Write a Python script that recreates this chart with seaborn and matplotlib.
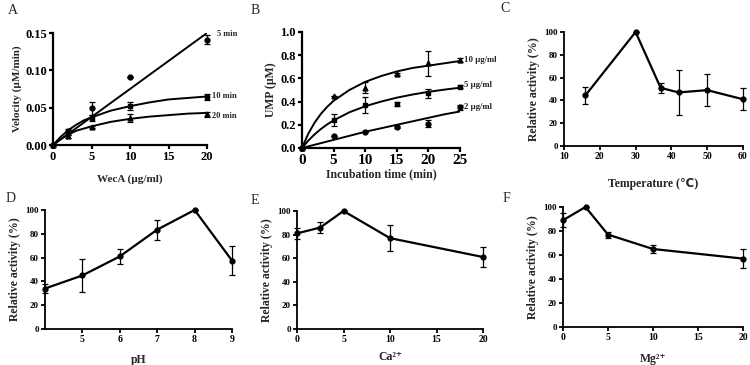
import numpy as np
import pandas as pd
import seaborn as sns
import matplotlib
matplotlib.use("Agg")
import matplotlib.pyplot as plt

# ---- panel A: velocity vs WecA ----
a_x = [0, 2, 5, 10, 20]
a_5min = [0, 0.019, 0.049, 0.091, 0.141]
a_5min_err = [0, 0.002, 0.009, 0, 0.006]
a_10min = [0, 0.016, 0.036, 0.052, 0.064]
a_10min_err = [0, 0.002, 0.004, 0.005, 0.004]
a_20min = [0, 0.012, 0.024, 0.036, 0.041]
a_20min_err = [0, 0.002, 0.001, 0.005, 0.003]
# fitted curves
a_fit_x = [0, 1, 2, 3, 4, 5, 7.5, 10, 12.5, 15, 17.5, 20]
a_fit_5min = [0, 0.0075, 0.015, 0.0225, 0.03, 0.0375, 0.0563, 0.075, 0.0938, 0.1125, 0.1313, 0.15]
a_fit_10min = [0, 0.011, 0.020, 0.027, 0.033, 0.037, 0.046, 0.052, 0.057, 0.061, 0.063, 0.065]
a_fit_20min = [0, 0.008, 0.014, 0.019, 0.022, 0.025, 0.031, 0.035, 0.038, 0.040, 0.042, 0.043]

# ---- panel B: UMP vs incubation time ----
b_x = [0, 5, 10, 15, 20, 25]
b_10 = [0, 0.45, 0.52, 0.64, 0.73, 0.76]
b_10_err = [0, 0, 0.05, 0.01, 0.11, 0.02]
b_5 = [0, 0.24, 0.37, 0.38, 0.47, 0.53]
b_5_err = [0, 0.05, 0.07, 0.02, 0.04, 0.01]
b_2 = [0, 0.10, 0.14, 0.18, 0.21, 0.35]
b_2_err = [0, 0, 0, 0.01, 0.03, 0.02]
b_fit_x = [0, 1, 2, 3, 4, 5, 7.5, 10, 12.5, 15, 17.5, 20, 22.5, 25]
b_fit_10 = [0, 0.124, 0.219, 0.295, 0.356, 0.407, 0.50, 0.57, 0.62, 0.66, 0.69, 0.71, 0.73, 0.75]
b_fit_5 = [0, 0.064, 0.118, 0.164, 0.204, 0.238, 0.308, 0.36, 0.40, 0.434, 0.461, 0.484, 0.503, 0.52]
b_fit_2 = [0, 0.014, 0.028, 0.042, 0.056, 0.07, 0.105, 0.14, 0.17, 0.20, 0.23, 0.26, 0.29, 0.315]

# ---- panels C-F: relative activity ----
c_temp = [16, 30, 37, 42, 50, 60]
c_act = [44.5, 100, 51, 47, 49, 41]
c_err = [7.5, 0, 4.5, 19.5, 14, 9.5]

d_ph = [4, 5, 6, 7, 8, 9]
d_act = [34, 45, 61, 83.5, 100, 57.5]
d_err = [3.5, 13.5, 6.5, 8.5, 0, 12]

e_ca = [0, 2.5, 5, 10, 20]
e_act = [81, 86, 100, 77, 61]
e_err = [5, 5, 0, 11, 8.5]

f_mg = [0, 2.5, 5, 10, 20]
f_act = [89, 100, 77, 65, 57]
f_err = [6, 0, 2.5, 3.5, 8]

sns.set_style("ticks")
plt.rcParams['font.family'] = ['Liberation Serif', 'DejaVu Sans']
plt.rcParams['font.weight'] = 'bold'
plt.rcParams['axes.labelweight'] = 'bold'

fig = plt.figure(figsize=(7.5, 3.65), dpi=100)
W, H = 750, 365


def make_ax(l, r, t, b):
    return fig.add_axes([l / W, 1 - b / H, (r - l) / W, (b - t) / H])


def style(ax, tick_fs, lw=1.3):
    sns.despine(ax=ax)
    for s in ["left", "bottom"]:
        ax.spines[s].set_linewidth(lw)
        ax.spines[s].set_color("black")
    ax.tick_params(direction="out", length=3, width=lw, colors="black",
                   labelsize=tick_fs, pad=1.5)
    for lab in ax.get_xticklabels() + ax.get_yticklabels():
        lab.set_fontweight("bold")


def points(ax, x, y, err, marker, ms=3.5):
    ax.errorbar(x, y, yerr=err, fmt=marker, color="black", ms=ms,
                elinewidth=0.9, capsize=2, capthick=0.9, clip_on=False, zorder=4)


# A
ax = make_ax(53, 207, 33, 145)
for fy in [a_fit_5min, a_fit_10min, a_fit_20min]:
    sns.lineplot(x=a_fit_x, y=fy, color="black", linewidth=1.4, ax=ax)
points(ax, a_x, a_5min, a_5min_err, "o")
points(ax, a_x, a_10min, a_10min_err, "s", 3.2)
points(ax, a_x, a_20min, a_20min_err, "^")
ax.set_xlim(0, 20)
ax.set_ylim(0, 0.15)
ax.set_xticks([0, 5, 10, 15, 20])
ax.set_yticks([0, 0.05, 0.10, 0.15])
ax.set_yticklabels(["0.00", "0.05", "0.10", "0.15"])
style(ax, 9, 1.6)
ax.set_xlabel("WecA (µg/ml)", fontsize=8, labelpad=8)
ax.set_ylabel("Velocity (µM/min)", fontsize=8, labelpad=2)
for tx, ty, s in [(21.3, 0.149, "5 min"), (20.6, 0.066, "10 min"), (20.6, 0.039, "20 min")]:
    ax.text(tx, ty, s, fontsize=6, va="center", ha="left", fontweight="bold", clip_on=False)

# B
ax = make_ax(302, 460, 32, 148)
for fy in [b_fit_10, b_fit_5, b_fit_2]:
    sns.lineplot(x=b_fit_x, y=fy, color="black", linewidth=1.4, ax=ax)
points(ax, b_x, b_10, b_10_err, "^")
points(ax, b_x, b_5, b_5_err, "s", 3.2)
points(ax, b_x, b_2, b_2_err, "o")
ax.set_xlim(0, 25)
ax.set_ylim(0, 1.0)
ax.set_xticks([0, 5, 10, 15, 20, 25])
ax.set_yticks([0, 0.2, 0.4, 0.6, 0.8, 1.0])
style(ax, 9, 1.6)
ax.tick_params(axis="x", labelsize=11)
ax.set_xlabel("Incubation time (min)", fontsize=8.5, labelpad=1)
ax.set_ylabel("UMP (µM)", fontsize=8.5, labelpad=2)
for tx, ty, s in [(25.6, 0.76, "10 µg/ml"), (25.6, 0.54, "5 µg/ml"), (25.6, 0.35, "2 µg/ml")]:
    ax.text(tx, ty, s, fontsize=6.3, va="center", ha="left", fontweight="bold", clip_on=False)


def activity(ax, x, y, err, xlim, xticks, xlabel, xlabelpad):
    sns.lineplot(x=x, y=y, color="black", linewidth=1.6, ax=ax)
    points(ax, x, y, err, "o", 3.5)
    ax.set_xlim(*xlim)
    ax.set_ylim(0, 100)
    ax.set_xticks(xticks)
    ax.set_yticks([0, 20, 40, 60, 80, 100])
    style(ax, 6.5, 1.3)
    ax.tick_params(axis="x", labelsize=7)
    ax.set_xlabel(xlabel, fontsize=8.5, labelpad=xlabelpad)
    ax.set_ylabel("Relative activity (%)", fontsize=8.5, labelpad=3)


ax = make_ax(564, 743, 32, 146)
activity(ax, c_temp, c_act, c_err, (10, 60), [10, 20, 30, 40, 50, 60], "Temperature (℃)", 12)

ax = make_ax(45, 232, 210, 329)
activity(ax, d_ph, d_act, d_err, (4, 9), [5, 6, 7, 8, 9], "pH", 7)

ax = make_ax(297, 483, 211, 329)
activity(ax, e_ca, e_act, e_err, (0, 20), [0, 5, 10, 15, 20], "Ca²⁺", 5)

ax = make_ax(563, 743, 207, 327)
activity(ax, f_mg, f_act, f_err, (0, 20), [0, 5, 10, 15, 20], "Mg²⁺", 8)

# panel letters
for px, py, s in [(13, 10, "A"), (255, 10, "B"), (505, 9, "C"),
                  (11, 199, "D"), (255, 200, "E"), (506, 198, "F")]:
    fig.text(px / W, 1 - py / H, s, fontsize=10, fontweight="normal",
             ha="center", va="center")

fig.savefig("out.png", dpi=100)
